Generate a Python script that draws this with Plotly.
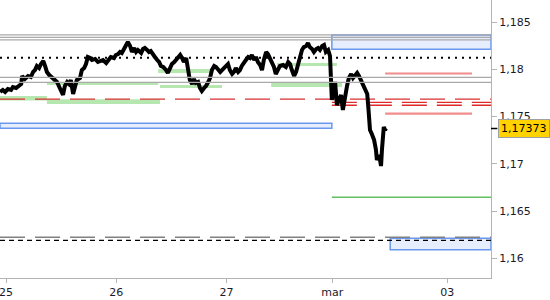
import plotly.graph_objects as go

# ---- price series (hours of trading time since 25 Feb 00:00) ----
hours = [-1.3, -0.7, -0.2, 0.4, 1.1, 1.5, 2.2, 2.8, 3.3, 3.5, 4.1, 4.8, 5.4, 5.9, 6.3, 6.7, 7.2, 7.6, 8.1, 8.5,
         8.9, 9.4, 10.0, 10.7, 11.1, 11.5, 12.0, 12.4, 12.8, 13.3, 13.7, 14.1, 14.6, 15.0, 15.4, 16.1, 16.5, 17.0, 17.4, 17.8,
         18.3, 18.7, 19.4, 20.0, 20.5, 21.1, 21.8, 22.4, 22.8, 23.5, 23.9, 24.4, 24.8, 25.2, 25.7, 26.1, 26.5, 27.0, 27.4, 27.9,
         28.3, 28.7, 29.4, 29.8, 30.2, 30.7, 31.1, 31.5, 32.0, 32.4, 32.9, 33.3, 33.7, 34.2, 34.8, 35.2, 35.7, 36.1, 36.6, 37.0,
         37.4, 37.9, 38.3, 38.7, 39.2, 39.6, 40.0, 40.5, 40.9, 41.3, 41.8, 42.2, 42.6, 43.1, 43.5, 44.0, 44.4, 44.8, 45.3, 45.7,
         46.1, 46.6, 47.0, 47.4, 47.9, 48.3, 48.7, 49.2, 49.6, 50.0, 50.5, 50.9, 51.3, 51.8, 52.2, 52.7, 53.1, 53.5, 54.0, 54.4,
         54.8, 55.3, 55.7, 56.1, 56.6, 57.0, 57.4, 57.9, 58.3, 58.7, 59.2, 59.6, 60.3, 60.9, 61.4, 61.8, 62.2, 62.7, 63.1, 63.5,
         64.0, 64.4, 64.8, 65.3, 65.7, 66.1, 66.6, 67.0, 67.5, 67.9, 68.3, 68.8, 69.2, 69.6, 70.1, 70.5,
         70.9, 71.4, 71.6, 72.0, 72.5, 72.9, 73.3, 73.8, 74.2, 74.6, 75.1, 75.5, 75.9, 76.4, 76.8, 77.2, 77.7, 78.1, 78.6, 78.8,
         79.0, 79.2, 79.6, 80.1, 80.5, 80.7, 81.2, 81.4, 81.6, 81.8, 82.0, 82.2, 82.5, 82.7]
price = [1.17760, 1.17781, 1.17760, 1.17791, 1.17781, 1.17812, 1.17802, 1.17833, 1.17844, 1.17929, 1.17897, 1.17929, 1.17918, 1.17971, 1.17992, 1.18035, 1.18013, 1.18056, 1.18087, 1.18035,
         1.17971, 1.17939, 1.17908, 1.17886, 1.17865, 1.17823, 1.17760, 1.17728, 1.17823, 1.17865, 1.17844, 1.17886, 1.17738, 1.17802, 1.17886, 1.17908, 1.17992, 1.18013, 1.18056, 1.18130,
         1.18119, 1.18098, 1.18109, 1.18077, 1.18087, 1.18098, 1.18066, 1.18098, 1.18130, 1.18119, 1.18151, 1.18161, 1.18183, 1.18172, 1.18225, 1.18257, 1.18288, 1.18246, 1.18183, 1.18225,
         1.18183, 1.18204, 1.18172, 1.18214, 1.18225, 1.18204, 1.18183, 1.18193, 1.18151, 1.18130, 1.18098, 1.18077, 1.18035, 1.18024, 1.17992, 1.17961, 1.18013, 1.18056, 1.18077, 1.18098,
         1.18119, 1.18151, 1.18119, 1.18077, 1.18119, 1.17971, 1.17886, 1.17844, 1.17897, 1.17855, 1.17865, 1.17802, 1.17770, 1.17802, 1.17823, 1.17865, 1.17908, 1.17992, 1.18035, 1.18024,
         1.17992, 1.17971, 1.17992, 1.18013, 1.18035, 1.18056, 1.17992, 1.17950, 1.17971, 1.18013, 1.17971, 1.17992, 1.18035, 1.18077, 1.18098, 1.18130, 1.18119, 1.18151, 1.18098, 1.18130,
         1.18077, 1.18045, 1.17992, 1.18098, 1.18183, 1.18161, 1.18119, 1.18077, 1.18024, 1.17950, 1.17992, 1.18035, 1.18045, 1.18024, 1.18077, 1.18056, 1.17992, 1.17929, 1.17971, 1.18035,
         1.18151, 1.18204, 1.18235, 1.18246, 1.18278, 1.18235, 1.18214, 1.18183, 1.18214, 1.18225, 1.18204, 1.18246, 1.18257, 1.18183, 1.18204, 1.18140,
         1.17675, 1.17781, 1.17865, 1.17622, 1.17696, 1.17728, 1.17569, 1.17728, 1.17823, 1.17908, 1.17950, 1.17908, 1.17939, 1.17961, 1.17929, 1.17886, 1.17844, 1.17802, 1.17738, 1.17622,
         1.17484, 1.17357, 1.17315, 1.17251, 1.17146, 1.17040, 1.17093, 1.17019, 1.16976, 1.17146, 1.17304, 1.17389, 1.17357, 1.17373]
last_price = 1.17373
last_label = "1,17373"

# ---- axes ----
x_range = [-1.31, 105.53]
y_range = [1.15791, 1.18733]
x_tick_vals = [0, 24, 48, 71, 96]
x_tick_text = ["25", "26", "27", "mar", "03"]
y_tick_vals = [1.16, 1.165, 1.17, 1.175, 1.18, 1.185]
y_tick_text = ["1,16", "1,165", "1,17", "1,175", "1,18", "1,185"]

# ---- levels ----
gray_levels = [1.18363, 1.18338, 1.18310, 1.17915, 1.17862]
dotted_level = 1.18122
red_dash_level = 1.17685
gray_dash_level = 1.16222
black_dash_level = 1.16190
red_double_levels = [1.17650, 1.17619]
red_double_start = 70.9
pink_levels = [1.17955, 1.17530]
pink_start, pink_end = 82.5, 101.4
green_level = 1.16645
green_start = 70.9

# ---- zones ----
blue_x0 = [70.9, -1.31, 83.6]
blue_x1 = [105.53, 70.9, 105.53]
blue_lo = [1.18211, 1.17375, 1.16091]
blue_hi = [1.18363, 1.17428, 1.16211]

green_x0 = [-1.3, 8.9, 8.9, 33.1, 33.5, 59.0, 57.7]
green_x1 = [8.9, 33.5, 33.1, 44.8, 47.0, 72.0, 73.1]
green_lo = [1.17670, 1.17632, 1.17833, 1.17961, 1.17802, 1.18035, 1.17812]
green_hi = [1.17717, 1.17682, 1.17865, 1.18003, 1.17833, 1.18066, 1.17855]

shapes = []
for a, b, lo, hi in zip(green_x0, green_x1, green_lo, green_hi):
    shapes.append(dict(type="rect", xref="x", yref="y", x0=a, x1=b, y0=lo, y1=hi,
                       fillcolor="#b7e7b0", line=dict(width=0), layer="below"))
for a, b, lo, hi in zip(blue_x0, blue_x1, blue_lo, blue_hi):
    shapes.append(dict(type="rect", xref="x", yref="y", x0=a, x1=b, y0=lo, y1=hi,
                       fillcolor="#e6edfc", line=dict(color="#6a98ee", width=1.5), layer="below"))

def hline(y, color, width, dash="solid", x0=None, x1=None, layer="below"):
    shapes.append(dict(type="line", xref="x", yref="y",
                       x0=x_range[0] if x0 is None else x0,
                       x1=x_range[1] if x1 is None else x1,
                       y0=y, y1=y, line=dict(color=color, width=width, dash=dash), layer=layer))

for lv in gray_levels:
    hline(lv, "#a9a9a9", 1.2, layer="above")
hline(dotted_level, "#000000", 2, "2px,5px")
hline(red_dash_level, "#d83030", 1.3, "25px,10px")
for lv in red_double_levels:
    hline(lv, "#e02a2a", 1.3, "25px,10px", x0=red_double_start)
for lv in pink_levels:
    hline(lv, "#f28b8b", 2.2, x0=pink_start, x1=pink_end)
hline(green_level, "#62bf62", 1.5, x0=green_start)
hline(gray_dash_level, "#808080", 1.3, "25px,10px")
hline(black_dash_level, "#000000", 1.3, "5px,4px")

# last price tick on the axis
shapes.append(dict(type="line", xref="paper", yref="y", x0=1, x1=1.013, y0=last_price, y1=last_price,
                   line=dict(color="#000000", width=1.5), layer="above"))

fig = go.Figure()
fig.add_trace(go.Scatter(x=hours, y=price, mode="lines",
                         line=dict(color="#000000", width=4), hoverinfo="skip"))

fig.update_layout(
    width=550, height=300,
    margin=dict(l=0, r=59, t=0, b=22),
    paper_bgcolor="white", plot_bgcolor="white",
    showlegend=False,
    separators=", ",
    font=dict(family="DejaVu Sans", size=11, color="#1a1a2a"),
    shapes=shapes,
    annotations=[dict(xref="paper", yref="y", x=1, y=last_price, xanchor="left", yanchor="middle",
                      xshift=7, text=last_label, showarrow=False,
                      bgcolor="#ffd200", bordercolor="#a0a0a0", borderwidth=1, borderpad=2,
                      font=dict(family="DejaVu Sans", size=11, color="#000000"))],
)
fig.update_xaxes(range=x_range, showgrid=False, zeroline=False, showline=True, linecolor="#b4b4b4",
                 linewidth=1, ticks="outside", ticklen=4, tickcolor="#b4b4b4",
                 tickvals=x_tick_vals, ticktext=x_tick_text, ticklabeloverflow="allow")
fig.update_yaxes(range=y_range, side="right", showgrid=False, zeroline=False, showline=True,
                 linecolor="#b4b4b4", linewidth=1, ticks="outside", ticklen=5, tickcolor="#b4b4b4",
                 tickvals=y_tick_vals, ticktext=y_tick_text)

fig.write_html("out.html")
